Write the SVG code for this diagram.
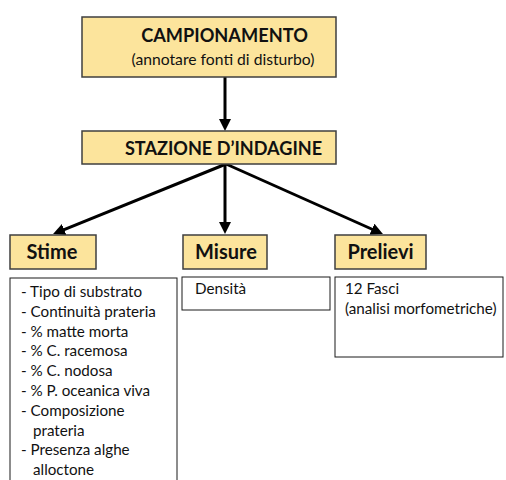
<svg xmlns="http://www.w3.org/2000/svg" width="506" height="480" viewBox="0 0 506 480">
<style>
.hdr{fill:#FCE49C;stroke:#3f3f3f;stroke-width:1.5}
.box{fill:#ffffff;stroke:#1a1a1a;stroke-width:1}
.t{font-family:Lato,"Liberation Sans",sans-serif;fill:#111}
.b{font-weight:bold}
.c{text-anchor:middle}
.edge{stroke:#000;stroke-width:3;fill:none}
</style>
<defs>
<marker id="ah" viewBox="0 0 12 12" markerWidth="12" markerHeight="12" markerUnits="userSpaceOnUse" refX="2" refY="6" orient="auto">
<path d="M0,0 L12,6 L0,12 z" fill="#000"/>
</marker>
</defs>
<rect width="506" height="480" fill="#fff"/>
<g id="connectors">
<line class="edge" x1="225" y1="77" x2="225" y2="121" marker-end="url(#ah)"/>
<line class="edge" x1="226" y1="164" x2="62.3" y2="230.3" marker-end="url(#ah)"/>
<line class="edge" x1="225" y1="164" x2="225" y2="224" marker-end="url(#ah)"/>
<line class="edge" x1="226" y1="164" x2="373.8" y2="230" marker-end="url(#ah)"/>
</g>
<g id="campionamento">
<rect class="hdr" x="82" y="17" width="254" height="60"/>
<text class="t b c" x="224.5" y="42" font-size="18.2">CAMPIONAMENTO</text>
<text class="t c" x="223" y="65" font-size="15.7">(annotare fonti di disturbo)</text>
</g>
<g id="stazione">
<rect class="hdr" x="82" y="131" width="254" height="33"/>
<text class="t b c" x="223.5" y="155" font-size="18.1">STAZIONE D’INDAGINE</text>
</g>
<g id="stime">
<rect class="hdr" x="10" y="235" width="86" height="34"/>
<text class="t b c" x="52" y="259" font-size="20">Stime</text>
</g>
<g id="misure">
<rect class="hdr" x="183" y="235" width="84" height="34"/>
<text class="t b c" x="226" y="259" font-size="20">Misure</text>
</g>
<g id="prelievi">
<rect class="hdr" x="335" y="235" width="91" height="34"/>
<text class="t b c" x="380.5" y="259" font-size="20">Prelievi</text>
</g>
<g id="stime-list">
<rect class="box" x="10" y="278" width="167" height="210"/>
<g class="t" font-size="15.2">
<text x="21" y="297">- Tipo di substrato</text>
<text x="21" y="316.8">- Continuità prateria</text>
<text x="21" y="336.6">- % matte morta</text>
<text x="21" y="356.4">- % C. racemosa</text>
<text x="21" y="376.2">- % C. nodosa</text>
<text x="21" y="396">- % P. oceanica viva</text>
<text x="21" y="415.8">- Composizione</text>
<text x="33" y="435.6">prateria</text>
<text x="21" y="455.4">- Presenza alghe</text>
<text x="33" y="475.2">alloctone</text>
</g>
</g>
<g id="misure-list">
<rect class="box" x="182" y="277" width="148" height="33"/>
<text class="t" x="195" y="294" font-size="15.2">Densità</text>
</g>
<g id="prelievi-list">
<rect class="box" x="335" y="277" width="168" height="80"/>
<text class="t" x="345" y="294" font-size="15.2">12 Fasci</text>
<text class="t" x="345" y="314" font-size="15.2">(analisi morfometriche)</text>
</g>
</svg>
